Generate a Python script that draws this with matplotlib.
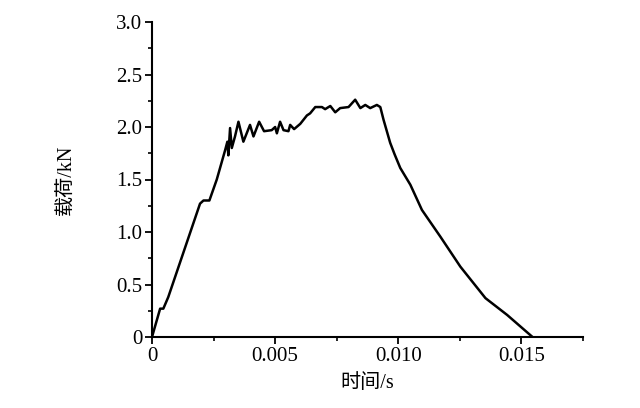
import matplotlib
matplotlib.use("Agg")
import matplotlib.pyplot as plt
from matplotlib.ticker import MultipleLocator, FixedLocator

time_s = [0.0, 0.00033, 0.00046, 0.00066, 0.00195, 0.00209, 0.00233, 0.00263, 0.00297,
          0.00306, 0.0031, 0.00317, 0.00324, 0.00337, 0.00351, 0.00371, 0.00398, 0.00412,
          0.00435, 0.00455, 0.00486, 0.0050, 0.00507, 0.0052, 0.00534, 0.00554, 0.00561,
          0.00577, 0.00602, 0.00629, 0.00642, 0.00663, 0.0069, 0.00703, 0.00724, 0.00744,
          0.00764, 0.00798, 0.00825, 0.00846, 0.00866, 0.00886, 0.00913, 0.00927,
          0.0094, 0.00967, 0.00985, 0.01008, 0.01049, 0.01096, 0.01171, 0.01252, 0.01354,
          0.01442, 0.01545]
load_kn = [0.0, 0.27, 0.27, 0.38, 1.27, 1.30, 1.30, 1.50, 1.78,
           1.86, 1.73, 1.99, 1.80, 1.91, 2.05, 1.86, 2.02, 1.91,
           2.05, 1.96, 1.97, 2.00, 1.94, 2.05, 1.97, 1.96, 2.02,
           1.98, 2.03, 2.11, 2.13, 2.19, 2.19, 2.17, 2.20, 2.14,
           2.18, 2.19, 2.26, 2.18, 2.21, 2.18, 2.21, 2.19,
           2.07, 1.85, 1.74, 1.61, 1.45, 1.21, 0.955, 0.67, 0.37,
           0.21, 0.0]

x_ticks = [0, 0.005, 0.010, 0.015]
x_tick_labels = ["0", "0.005", "0.010", "0.015"]
y_ticks = [0, 0.5, 1.0, 1.5, 2.0, 2.5, 3.0]
y_tick_labels = ["0", "0.5", "1.0", "1.5", "2.0", "2.5", "3.0"]

fam = ["Liberation Serif", "Noto Sans CJK SC"]
plt.rcParams["font.family"] = fam

fig = plt.figure(figsize=(6.4, 4.08), dpi=100)
ax = fig.add_axes([152/640, 71/408, 431/640, 315/408])
ax.plot(time_s, load_kn, color="black", lw=1.8, solid_joinstyle="round")

ax.set_xlim(0, 0.0175)
ax.set_ylim(0, 3.0)
ax.xaxis.set_major_locator(FixedLocator(x_ticks))
ax.set_xticklabels(x_tick_labels)
ax.xaxis.set_minor_locator(MultipleLocator(0.0025))
ax.yaxis.set_major_locator(FixedLocator(y_ticks))
ax.set_yticklabels(y_tick_labels)
ax.yaxis.set_minor_locator(MultipleLocator(0.25))

for s in ["top", "right"]:
    ax.spines[s].set_visible(False)
for s in ["left", "bottom"]:
    ax.spines[s].set_linewidth(1.5)

ax.tick_params(which="major", direction="out", length=5, width=1.3, labelsize=15, pad=2)
ax.tick_params(which="minor", direction="out", length=3, width=1.2)

ax.set_xlabel("时间/s", fontsize=14.5, family=fam, labelpad=6)
ax.set_ylabel("载荷/kN", fontsize=14.5, family=fam, labelpad=28)

fig.savefig("out.png", dpi=100, facecolor="white")
